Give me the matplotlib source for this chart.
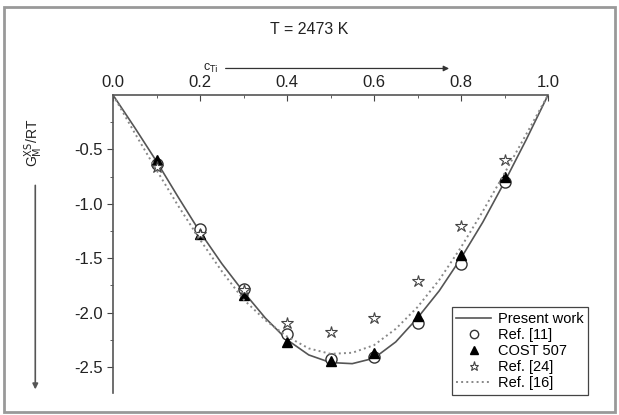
import matplotlib
matplotlib.use("Agg")
import matplotlib.pyplot as plt
from matplotlib.patches import Rectangle, FancyArrowPatch

plt.rcParams['font.family'] = ['Liberation Sans', 'DejaVu Sans']
plt.rcParams['axes.unicode_minus'] = False

# present work (calculated curve)
x_calc = [0.0, 0.05, 0.1, 0.15, 0.2, 0.25, 0.3, 0.35, 0.4, 0.45, 0.5, 0.55, 0.6, 0.65, 0.7, 0.75, 0.8, 0.85, 0.9, 0.95, 1.0]
g_calc = [0.0, -0.3, -0.61, -0.94, -1.26, -1.55, -1.81, -2.05, -2.25, -2.39, -2.46, -2.47, -2.42, -2.27, -2.05, -1.8, -1.5, -1.17, -0.8, -0.41, 0.0]

# Ref. [16] dotted curve
x_r16 = [0.0, 0.05, 0.1, 0.15, 0.2, 0.25, 0.3, 0.35, 0.4, 0.45, 0.5, 0.55, 0.6, 0.65, 0.7, 0.75, 0.8, 0.85, 0.9, 0.95, 1.0]
g_r16 = [0.0, -0.35, -0.69, -1.02, -1.33, -1.62, -1.88, -2.07, -2.22, -2.33, -2.38, -2.37, -2.3, -2.15, -1.95, -1.7, -1.4, -1.07, -0.72, -0.36, 0.0]

x_pts = [0.1, 0.2, 0.3, 0.4, 0.5, 0.6, 0.7, 0.8, 0.9]
g_ref11 = [-0.63, -1.23, -1.78, -2.2, -2.43, -2.41, -2.1, -1.55, -0.8]
g_cost = [-0.6, -1.28, -1.84, -2.27, -2.45, -2.37, -2.03, -1.47, -0.75]
g_ref24 = [-0.66, -1.28, -1.79, -2.1, -2.18, -2.05, -1.71, -1.2, -0.6]

fig = plt.figure(figsize=(6.19, 4.15), dpi=100)
ax = fig.add_axes([0.1826, 0.053, 0.7027, 0.718])

ax.plot(x_calc, g_calc, '-', color='#555555', lw=1.2, label='Present work')
ax.plot(x_pts, g_ref11, 'o', mfc='white', mec='#333333', ms=8, mew=1, label='Ref. [11]')
ax.plot(x_pts, g_cost, '^', color='black', ms=7, label='COST 507')
ax.plot(x_pts, g_ref24, '*', mfc='white', mec='#444444', ms=9, mew=0.8, label='Ref. [24]')
ax.plot(x_r16, g_r16, ':', color='#888888', lw=1.4, label='Ref. [16]')

ax.set_xlim(0, 1.0)
ax.set_ylim(-2.74, 0)
ax.xaxis.tick_top()
ax.set_xticks([0.0, 0.2, 0.4, 0.6, 0.8, 1.0])
ax.set_xticks([0.1, 0.3, 0.5, 0.7, 0.9], minor=True)
ax.set_yticks([-0.5, -1.0, -1.5, -2.0, -2.5])
ax.set_yticks([-0.25, -0.75, -1.25, -1.75, -2.25], minor=True)
ax.tick_params(axis='x', which='both', direction='in', labelsize=12, colors='#444444', labelcolor='#222222')
ax.tick_params(axis='y', which='both', direction='out', labelsize=12, colors='#444444', labelcolor='#222222')
ax.tick_params(which='major', length=4)
ax.tick_params(which='minor', length=2.5)
ax.spines['right'].set_visible(False)
ax.spines['bottom'].set_visible(False)
ax.spines['top'].set_color('#555555')
ax.spines['left'].set_color('#555555')
ax.spines['top'].set_linewidth(1.2)
ax.spines['left'].set_linewidth(1.2)

leg = fig.legend(loc='upper left', bbox_to_anchor=(0.718, 0.277), fontsize=10.5,
                 frameon=True, fancybox=False, edgecolor='#444444', framealpha=1,
                 handlelength=2.4, handletextpad=0.5, borderpad=0.3, labelspacing=0.15,
                 markerscale=0.75)
leg.get_frame().set_linewidth(0.9)

fig.text(0.5, 0.93, 'T = 2473 K', ha='center', va='center', fontsize=11.5, color='#222222')
fig.text(0.34, 0.835, r'c$_{\mathrm{Ti}}$', ha='center', va='center', fontsize=9, color='#222222')
fig.patches.append(FancyArrowPatch((0.36, 0.835), (0.73, 0.835), transform=fig.transFigure,
                                   arrowstyle='-|>', mutation_scale=8, color='#333333', lw=0.9))
fig.text(0.055, 0.655, r'G$_{\mathrm{M}}^{\mathrm{XS}}$/RT', rotation=90, ha='center', va='center',
         fontsize=10, color='#222222')
fig.patches.append(FancyArrowPatch((0.057, 0.56), (0.057, 0.055), transform=fig.transFigure,
                                   arrowstyle='-|>', mutation_scale=8, color='#555555', lw=1.2))

fig.patches.append(Rectangle((0.006, 0.008), 0.988, 0.975, transform=fig.transFigure,
                             fill=False, edgecolor='#999999', lw=2))

fig.savefig('out.png', dpi=100)
